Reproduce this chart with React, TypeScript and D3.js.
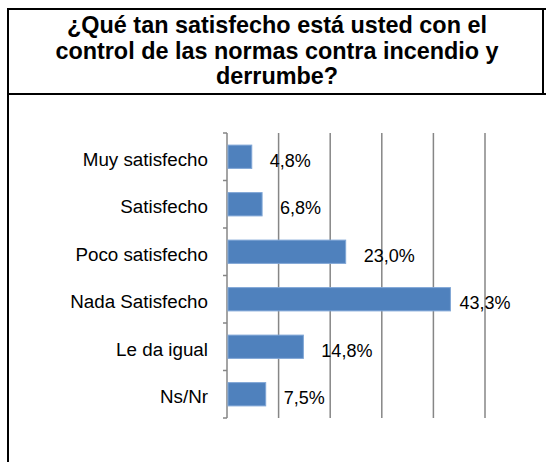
import React from 'react';
import * as d3 from 'd3';

// chart data
const categories = ['Muy satisfecho', 'Satisfecho', 'Poco satisfecho', 'Nada Satisfecho', 'Le da igual', 'Ns/Nr'];
const values = [4.8, 6.8, 23.0, 43.3, 14.8, 7.5];
const xTicks = [0, 10, 20, 30, 40, 50];
const titleLines = ['¿Qué tan satisfecho está usted con el', 'control de las normas contra incendio y', 'derrumbe?'];

const W = 546;
const H = 462;
const FONT = '"Liberation Sans", Arial, sans-serif';

export default function App() {
  const plot = { left: 227, right: 485, top: 133, bottom: 418 };

  const x = d3.scaleLinear().domain([0, 50]).range([plot.left, plot.right]);
  const y = d3.scaleBand<string>().domain(categories).range([plot.top, plot.bottom]).padding(0);
  const barH = y.bandwidth() * 0.49;
  const fmt = (v: number) => v.toFixed(1).replace('.', ',') + '%';

  // rough label width so labels don't spill past the plot
  const labelW = (s: string) => s.length * 10.3;
  const labelMaxRight = 511;

  return (
    <div style={{ position: 'absolute', left: 0, top: 0 }}>
      <svg width={W} height={H} style={{ display: 'block', background: '#fff' }} fontFamily={FONT}>
        {/* frame */}
        <line x1={8} y1={9} x2={8} y2={H} stroke="#000" strokeWidth={2} />
        <line x1={7} y1={9} x2={W} y2={9} stroke="#000" strokeWidth={2} />
        <line x1={543} y1={9} x2={543} y2={94} stroke="#000" strokeWidth={2} />
        <line x1={7} y1={94} x2={W} y2={94} stroke="#000" strokeWidth={2} />

        {/* title */}
        {titleLines.map((t, i) => (
          <text key={i} x={277} y={33 + i * 25.5} textAnchor="middle" fontSize={23.4} fontWeight="bold" fill="#000">
            {t}
          </text>
        ))}

        {/* gridlines */}
        {xTicks.slice(1).map(t => (
          <line key={t} x1={x(t)} x2={x(t)} y1={plot.top} y2={plot.bottom} stroke="#868686" strokeWidth={1.5} />
        ))}

        {/* category axis */}
        <line x1={plot.left} x2={plot.left} y1={plot.top} y2={plot.bottom} stroke="#868686" strokeWidth={1.5} />
        {[...categories.map(c => y(c) as number), plot.bottom].map((ty, i) => (
          <line key={i} x1={plot.left - 4} x2={plot.left} y1={ty} y2={ty} stroke="#868686" strokeWidth={1.5} />
        ))}

        {/* bars */}
        {categories.map((c, i) => {
          const cy = (y(c) as number) + y.bandwidth() / 2;
          return (
            <rect
              key={c}
              x={x(0) + 1}
              y={cy - barH / 2}
              width={x(values[i]) - x(0) - 1}
              height={barH}
              fill="#4f81bd"
              stroke="#7fa6d6"
              strokeWidth={1}
            />
          );
        })}

        {/* category labels */}
        {categories.map(c => (
          <text
            key={c}
            x={208}
            y={(y(c) as number) + y.bandwidth() / 2 + 9}
            textAnchor="end"
            fontSize={18.8}
            fill="#000"
          >
            {c}
          </text>
        ))}

        {/* value labels */}
        {categories.map((c, i) => {
          const s = fmt(values[i]);
          const lx = Math.min(x(values[i]) + 18, labelMaxRight - labelW(s));
          return (
            <text key={c} x={lx} y={(y(c) as number) + y.bandwidth() / 2 + 10} fontSize={18} fill="#000">
              {s}
            </text>
          );
        })}
      </svg>
    </div>
  );
}
